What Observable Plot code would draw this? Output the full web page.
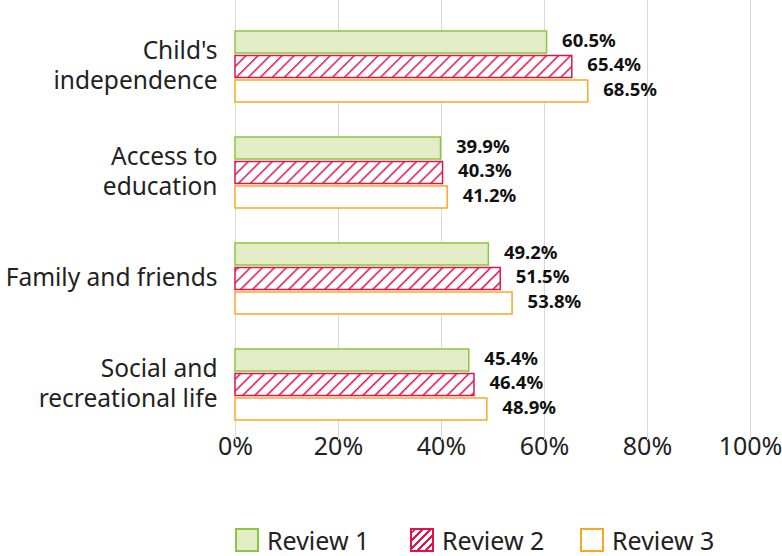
<!DOCTYPE html>
<html>
<head>
<meta charset="utf-8">
<script src="https://cdn.jsdelivr.net/npm/d3@7"></script>
<script src="https://cdn.jsdelivr.net/npm/@observablehq/plot@0.6"></script>
<style>
  html, body { margin: 0; padding: 0; background: #fff; }
  body { width: 782px; height: 556px; overflow: hidden; font-family: "Noto Sans", "Open Sans", sans-serif; color: #222; }
  #legend { position: relative; height: 41px; }
  .item { position: absolute; top: 11px; display: flex; align-items: center; font-size: 25px; line-height: 28px; }
  .sw { width: 24px; height: 24px; margin-right: 8px; box-sizing: border-box; }
</style>
</head>
<body>
<div id="chart"></div>
<div id="legend"></div>
<script>
const categories = ["Child's independence", "Access to education", "Family and friends", "Social and recreational life"];
const categoryLabels = ["Child's\nindependence", "Access to\neducation", "Family and friends", "Social and\nrecreational life"];
const review1 = [60.5, 39.9, 49.2, 45.4];
const review2 = [65.4, 40.3, 51.5, 46.4];
const review3 = [68.5, 41.2, 53.8, 48.9];
const seriesNames = ["Review 1", "Review 2", "Review 3"];
const xTicks = [0, 20, 40, 60, 80, 100];

const green = "#8cc63e", greenFill = "#e2ecc7", crimson = "#e0134f", orange = "#f7a823";
const rows = (vals) => categories.map((c, i) => ({category: c, value: vals[i]}));
const r1 = rows(review1), r2 = rows(review2), r3 = rows(review3);
const labelRows = categories.map((c, i) => ({category: c, label: categoryLabels[i]}));

const band = 72, bar = 23, gap = (band - 3 * bar) / 2;
const fmt = d => d.value.toFixed(1) + "%";
const valText = (data, dy) => Plot.text(data, {x: "value", y: "category", dy: dy - 1.5, dx: 15, text: fmt, textAnchor: "start", fontSize: 18.5, fontWeight: "bold", fill: "#111"});

const chart = Plot.plot({
  width: 782,
  height: 515,
  marginLeft: 235,
  marginRight: 32,
  marginTop: 0,
  marginBottom: 75,
  style: {fontSize: "25px", fontFamily: "'Noto Sans', 'Open Sans', sans-serif", color: "#222", background: "#fff"},
  x: {domain: [0, 100], ticks: xTicks, tickFormat: d => d + "%", tickSize: 0, tickPadding: -3, label: null},
  y: {domain: categories, paddingInner: 0.327, paddingOuter: 0.22, align: 0.617, axis: null},
  marks: [
    Plot.ruleX(xTicks, {stroke: "#d9d9d9", strokeWidth: 1}),
    Plot.barX(r1, {x: "value", y: "category", insetBottom: band - bar, fill: greenFill, stroke: green, strokeWidth: 1.5}),
    Plot.barX(r2, {x: "value", y: "category", insetTop: bar + gap, insetBottom: bar + gap, fill: "url(#hatch2)", stroke: crimson, strokeWidth: 1.5}),
    Plot.barX(r3, {x: "value", y: "category", insetTop: band - bar, fill: "#fff", stroke: orange, strokeWidth: 1.5}),
    valText(r1, -(bar + gap)),
    valText(r2, 0),
    valText(r3, bar + gap),
    Plot.text(labelRows, {x: 0, y: "category", text: "label", dx: -18, dy: -3, textAnchor: "end", fontSize: 24.5, lineHeight: 1.22, fill: "#222"})
  ]
});

// hatch pattern definition
const ns = "http://www.w3.org/2000/svg";
const svgEl = chart.tagName.toLowerCase() === "svg" ? chart : chart.querySelector("svg");
const defs = document.createElementNS(ns, "defs");
defs.innerHTML = `<pattern id="hatch2" patternUnits="userSpaceOnUse" width="8.5" height="8.5" patternTransform="rotate(45)">
  <rect width="8.5" height="8.5" fill="#fff"/>
  <line x1="0" y1="0" x2="0" y2="8.5" stroke="${crimson}" stroke-width="3"/>
</pattern>`;
svgEl.insertBefore(defs, svgEl.firstChild);
document.getElementById("chart").appendChild(chart);

// legend
const legend = document.getElementById("legend");
const legendPos = [235, 410, 580];
const swStyles = [
  `background:${greenFill};border:2px solid ${green};`,
  `border:2px solid ${crimson};background:repeating-linear-gradient(-45deg,#fff 0 3.5px,${crimson} 3.5px 5.5px);`,
  `background:#fff;border:2px solid ${orange};`
];
seriesNames.forEach((name, i) => {
  const item = document.createElement("div");
  item.className = "item";
  item.style.left = legendPos[i] + "px";
  item.innerHTML = `<div class="sw" style="${swStyles[i]}"></div><span>${name}</span>`;
  legend.appendChild(item);
});
</script>
</body>
</html>
